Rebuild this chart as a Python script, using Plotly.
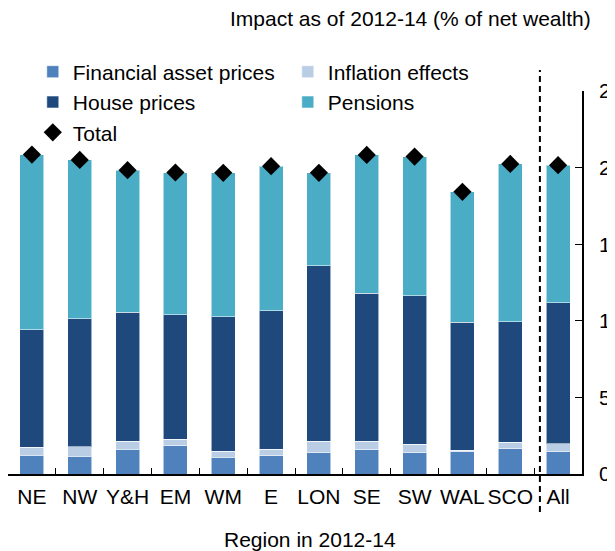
import plotly.graph_objects as go

regions = ["NE", "NW", "Y&H", "EM", "WM", "E", "LON", "SE", "SW", "WAL", "SCO", "All"]
financial = [1.24, 1.17, 1.63, 1.83, 1.09, 1.20, 1.39, 1.59, 1.39, 1.46, 1.65, 1.46]
inflation = [0.52, 0.61, 0.50, 0.45, 0.39, 0.43, 0.76, 0.54, 0.54, 0.08, 0.42, 0.50]
house = [7.65, 8.35, 8.44, 8.11, 8.78, 9.02, 11.44, 9.67, 9.70, 8.35, 7.87, 9.21]
pensions = [11.44, 10.37, 9.26, 9.29, 9.40, 9.44, 6.07, 9.03, 9.09, 8.53, 10.30, 8.99]
total = [20.85, 20.50, 19.83, 19.68, 19.66, 20.09, 19.66, 20.83, 20.72, 18.42, 20.24, 20.16]
y_ticks = [0, 5, 10, 15, 20, 25]

FONT = "Arial, Liberation Sans, sans-serif"
FS = 21
edge = dict(color="rgba(255,255,255,0.55)", width=1)

fig = go.Figure()
fig.add_bar(x=regions, y=financial, name="Financial asset prices",
            marker=dict(color="#4F81BD", line=edge))
fig.add_bar(x=regions, y=inflation, name="Inflation effects",
            marker=dict(color="#B9CDE5", line=edge))
fig.add_bar(x=regions, y=house, name="House prices",
            marker=dict(color="#1F497D", line=edge))
fig.add_bar(x=regions, y=pensions, name="Pensions",
            marker=dict(color="#4BACC6", line=edge))
fig.add_scatter(x=regions, y=total, name="Total", mode="markers",
                marker=dict(symbol="diamond", size=14, color="black"))

fig.update_layout(
    template="none",
    width=615, height=551,
    margin=dict(l=0, r=41, t=83, b=85, autoexpand=False),
    barmode="stack", bargap=0.5,
    plot_bgcolor="white", paper_bgcolor="white",
    font=dict(family=FONT, size=FS, color="black"),
    showlegend=True,
    legend=dict(orientation="h", x=0.0432, y=1.103, xanchor="left", yanchor="top",
                entrywidth=210, entrywidthmode="pixels",
                font=dict(size=FS), bgcolor="rgba(0,0,0,0)", traceorder="normal",
                itemclick=False),
    xaxis=dict(type="category", range=[-0.5, 11.5], showline=True, linecolor="black",
               linewidth=1.5, ticks="inside", ticklen=6, tickcolor="black",
               tickson="boundaries", showgrid=False, zeroline=False, tickangle=0,
               automargin=False, tickfont=dict(size=FS), ticklabelstandoff=3),
    yaxis=dict(side="right", range=[0, 25], tickvals=y_ticks,
               ticktext=[str(v) for v in y_ticks], showline=True, linecolor="black",
               linewidth=1.5, ticks="inside", ticklen=7, tickcolor="black",
               showgrid=False, zeroline=False, automargin=False,
               tickfont=dict(size=FS), ticklabelstandoff=11),
    annotations=[
        dict(text="Impact as of 2012-14 (% of net wealth)", xref="paper", yref="paper",
             x=1.019, y=1.19, xanchor="right", yanchor="middle", showarrow=False,
             font=dict(size=FS)),
        dict(text="Region in 2012-14", xref="paper", yref="paper",
             x=0.526, y=-0.172, xanchor="center", yanchor="middle", showarrow=False,
             font=dict(size=FS)),
    ],
    shapes=[
        dict(type="line", xref="x", yref="paper", x0=10.62, x1=10.62, y0=-0.099, y1=1.055,
             line=dict(color="black", width=2, dash="6px,4px")),
    ],
)

fig.write_html("out.html")
